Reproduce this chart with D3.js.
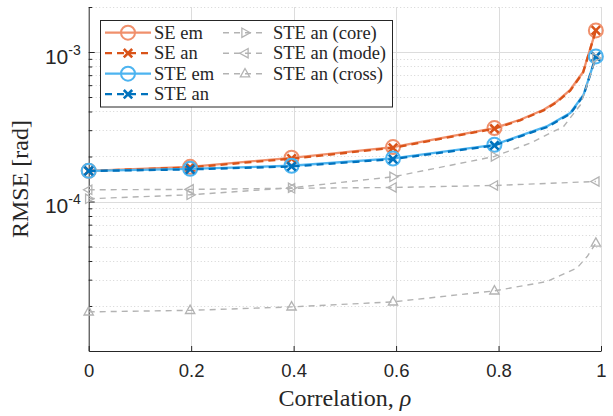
<!DOCTYPE html>
<html>
<head>
<meta charset="utf-8">
<script src="https://cdn.jsdelivr.net/npm/d3@7"></script>
<style>
  body { margin: 0; background: #fff; }
  svg { display: block; }
</style>
</head>
<body>
<div id="chart"></div>
<script>
// correlation values where markers are drawn
const rhoMarks = [0, 0.198, 0.396, 0.594, 0.792, 0.99];

// SE em / SE an
const seRho = [0, 0.198, 0.396, 0.594, 0.792, 0.842, 0.888, 0.914, 0.94, 0.965, 0.99];
const seEm = [1.605e-4, 1.707e-4, 1.961e-4, 2.312e-4, 3.099e-4, 3.523e-4, 4.11e-4, 4.67e-4, 5.59e-4, 7.35e-4, 1.395e-3];
const seAn = [1.600e-4, 1.690e-4, 1.935e-4, 2.285e-4, 3.070e-4, 3.490e-4, 4.07e-4, 4.62e-4, 5.52e-4, 7.28e-4, 1.395e-3];

// STE em / STE an
const steRho = [0, 0.198, 0.396, 0.594, 0.792, 0.829, 0.894, 0.94, 0.966, 0.99];
const steEm = [1.605e-4, 1.655e-4, 1.734e-4, 1.94e-4, 2.396e-4, 2.657e-4, 3.177e-4, 3.906e-4, 5.18e-4, 9.34e-4];
const steAn = [1.600e-4, 1.640e-4, 1.715e-4, 1.92e-4, 2.37e-4, 2.63e-4, 3.14e-4, 3.86e-4, 5.12e-4, 9.30e-4];

// STE an components
const coreRho = [0, 0.198, 0.396, 0.594, 0.792, 0.862, 0.927, 0.96, 0.99];
const coreVal = [1.043e-4, 1.109e-4, 1.235e-4, 1.463e-4, 2.001e-4, 2.46e-4, 3.177e-4, 4.44e-4, 9.12e-4];
const modeRho = [0, 0.198, 0.396, 0.594, 0.792, 0.99];
const modeVal = [1.198e-4, 1.205e-4, 1.226e-4, 1.241e-4, 1.28e-4, 1.361e-4];
const crossRho = [0, 0.198, 0.396, 0.594, 0.792, 0.894, 0.953, 0.973, 0.99];
const crossVal = [1.827e-5, 1.87e-5, 1.973e-5, 2.131e-5, 2.525e-5, 2.914e-5, 3.583e-5, 4.284e-5, 5.27e-5];

const xTicks = [0, 0.2, 0.4, 0.6, 0.8, 1];
const xTickLabels = ["0", "0.2", "0.4", "0.6", "0.8", "1"];
const yMajor = [1e-4, 1e-3];
const yMajorExp = ["-4", "-3"];

var W = 613, H = 416;
var margin = { left: 88.7, right: 12, top: 7, bottom: 65 };

var x = d3.scaleLinear().domain([0, 1]).range([margin.left, W - margin.right]);
var y = d3.scaleLog().domain([1e-5, 2e-3]).range([H - margin.bottom, margin.top]);

var svg = d3.select("#chart").append("svg").attr("width", W).attr("height", H);

// minor log ticks
var yMinor = [];
[1e-5, 1e-4, 1e-3].forEach(function (d) {
  for (var k = 2; k <= 9; k++) {
    var v = k * d;
    if (v <= 2e-3 + 1e-12) yMinor.push(v);
  }
});

// grid
var grid = svg.append("g");
grid.selectAll(".ymin").data(yMinor).enter().append("line")
  .attr("x1", x(0)).attr("x2", x(1))
  .attr("y1", function (d) { return Math.round(y(d)) + 0.5; })
  .attr("y2", function (d) { return Math.round(y(d)) + 0.5; })
  .style("stroke", "#d4d4d4").style("stroke-width", 1).style("stroke-dasharray", "1,2.5");
grid.selectAll(".ymaj").data(yMajor).enter().append("line")
  .attr("x1", x(0)).attr("x2", x(1))
  .attr("y1", function (d) { return Math.round(y(d)) + 0.5; })
  .attr("y2", function (d) { return Math.round(y(d)) + 0.5; })
  .style("stroke", "#dcdcdc").style("stroke-width", 1);
grid.selectAll(".xg").data(xTicks.slice(1)).enter().append("line")
  .attr("x1", function (d) { return Math.round(x(d)) + 0.5; })
  .attr("x2", function (d) { return Math.round(x(d)) + 0.5; })
  .attr("y1", y(2e-3)).attr("y2", y(1e-5))
  .style("stroke", "#dcdcdc").style("stroke-width", 1);

// axes
var axisCol = "#262626";
var gx = svg.append("g")
  .attr("transform", "translate(0," + y(1e-5) + ")")
  .call(d3.axisBottom(x).tickValues(xTicks).tickSizeInner(-5).tickSizeOuter(0).tickPadding(13)
    .tickFormat(function (d, i) { return xTickLabels[i]; }));
gx.select(".domain").style("stroke", axisCol);
gx.selectAll(".tick line").style("stroke", axisCol);
gx.selectAll(".tick text").style("font-family", "Liberation Sans, Arial, sans-serif")
  .style("font-size", "18.5px").style("fill", "#262626");

var gyMin = svg.append("g")
  .attr("transform", "translate(" + x(0) + ",0)")
  .call(d3.axisLeft(y).tickValues(yMinor).tickSizeInner(-3.5).tickSizeOuter(0).tickFormat(""));
gyMin.selectAll(".tick line").style("stroke", axisCol);
gyMin.select(".domain").style("stroke", axisCol);
var gyMaj = svg.append("g")
  .attr("transform", "translate(" + x(0) + ",0)")
  .call(d3.axisLeft(y).tickValues(yMajor).tickSizeInner(-6).tickSizeOuter(0).tickFormat(""));
gyMaj.selectAll(".tick line").style("stroke", axisCol);
gyMaj.select(".domain").remove();

// y tick labels 10^k
yMajor.forEach(function (d, i) {
  var t = svg.append("text")
    .attr("x", x(0) - 8)
    .attr("y", y(d) + 11.5)
    .attr("text-anchor", "end")
    .style("font-family", "Liberation Sans, Arial, sans-serif")
    .style("fill", "#262626");
  t.append("tspan").style("font-size", "21px").text("10");
  t.append("tspan").attr("dy", -9).style("font-size", "14px").text(yMajorExp[i]);
});

// axis labels
svg.append("text")
  .attr("transform", "translate(28," + (y(1e-5) + y(2e-3)) / 2 + ") rotate(-90)")
  .attr("text-anchor", "middle")
  .style("font-family", "Liberation Serif, Times New Roman, serif")
  .style("font-size", "24px").style("fill", "#262626")
  .text("RMSE [rad]");
var xl = svg.append("text")
  .attr("x", (x(0) + x(1)) / 2).attr("y", 406)
  .attr("text-anchor", "middle")
  .style("font-family", "Liberation Serif, Times New Roman, serif")
  .style("font-size", "24px").style("fill", "#262626");
xl.append("tspan").text("Correlation, ");
xl.append("tspan").style("font-style", "italic").text("ρ");

// series definitions
const ORANGE_LIGHT = "#f0906c";
const ORANGE = "#d95319";
const BLUE_LIGHT = "#4db4f0";
const BLUE = "#0072bd";
const GRAY = "#b3b3b3";

var series = [
  { name: "SE em", rho: seRho, val: seEm, color: ORANGE_LIGHT, width: 2.3, dash: null, marker: "circle" },
  { name: "SE an", rho: seRho, val: seAn, color: ORANGE, width: 2.3, dash: "7,5", marker: "x" },
  { name: "STE em", rho: steRho, val: steEm, color: BLUE_LIGHT, width: 2.3, dash: null, marker: "circle" },
  { name: "STE an", rho: steRho, val: steAn, color: BLUE, width: 2.3, dash: "7,5", marker: "x" },
  { name: "STE an (core)", rho: coreRho, val: coreVal, color: GRAY, width: 1.4, dash: "6,5", marker: "tri-right" },
  { name: "STE an (mode)", rho: modeRho, val: modeVal, color: GRAY, width: 1.4, dash: "6,5", marker: "tri-left" },
  { name: "STE an (cross)", rho: crossRho, val: crossVal, color: GRAY, width: 1.4, dash: "6,5", marker: "tri-up" }
];

function drawMarker(g, type, cx, cy, color) {
  if (type === "circle") {
    g.append("circle").attr("cx", cx).attr("cy", cy).attr("r", 7)
      .style("fill", "none").style("stroke", color).style("stroke-width", 2);
  } else if (type === "x") {
    var s = 4.2;
    g.append("path")
      .attr("d", "M" + (cx - s) + "," + (cy - s) + "L" + (cx + s) + "," + (cy + s) +
        "M" + (cx - s) + "," + (cy + s) + "L" + (cx + s) + "," + (cy - s))
      .style("stroke", color).style("stroke-width", 2.6).style("fill", "none");
  } else {
    var r = 5.2, pts;
    if (type === "tri-right") pts = [[cx + r, cy], [cx - r * 0.6, cy - r * 0.9], [cx - r * 0.6, cy + r * 0.9]];
    if (type === "tri-left") pts = [[cx - r, cy], [cx + r * 0.6, cy - r * 0.9], [cx + r * 0.6, cy + r * 0.9]];
    if (type === "tri-up") pts = [[cx, cy - r], [cx - r * 0.9, cy + r * 0.6], [cx + r * 0.9, cy + r * 0.6]];
    g.append("path").attr("d", "M" + pts.join("L") + "Z")
      .style("fill", "none").style("stroke", color).style("stroke-width", 1.3);
  }
}

var line = d3.line()
  .x(function (d) { return x(d[0]); })
  .y(function (d) { return y(d[1]); });

var plot = svg.append("g");
series.forEach(function (s) {
  var pts = s.rho.map(function (r, i) { return [r, s.val[i]]; });
  plot.append("path").datum(pts)
    .attr("d", line)
    .style("fill", "none")
    .style("stroke", s.color)
    .style("stroke-width", s.width)
    .style("stroke-dasharray", s.dash)
    .style("stroke-linejoin", "round");
  var mg = plot.append("g");
  pts.forEach(function (p) {
    if (rhoMarks.indexOf(p[0]) >= 0) drawMarker(mg, s.marker, x(p[0]), y(p[1]), s.color);
  });
});

// legend
var lg = svg.append("g");
lg.append("rect").attr("x", 100.5).attr("y", 20.5).attr("width", 292).attr("height", 86.5)
  .style("fill", "#fff").style("stroke", "#262626").style("stroke-width", 1);
var rowY = [32.7, 53.2, 73.7, 94.2];
series.forEach(function (s, i) {
  var col = i < 4 ? 0 : 1;
  var row = i < 4 ? i : i - 4;
  var x0 = col === 0 ? 105 : 223;
  var x1 = col === 0 ? 151 : 267;
  var ty = rowY[row];
  lg.append("line").attr("x1", x0).attr("x2", x1).attr("y1", ty).attr("y2", ty)
    .style("stroke", s.color).style("stroke-width", s.width)
    .style("stroke-dasharray", s.dash);
  drawMarker(lg, s.marker, (x0 + x1) / 2, ty, s.color);
  lg.append("text").attr("x", col === 0 ? 154 : 273).attr("y", ty).attr("dy", "0.33em")
    .style("font-family", "Liberation Serif, Times New Roman, serif")
    .style("font-size", "18.5px").style("fill", "#262626")
    .text(s.name);
});
</script>
</body>
</html>
